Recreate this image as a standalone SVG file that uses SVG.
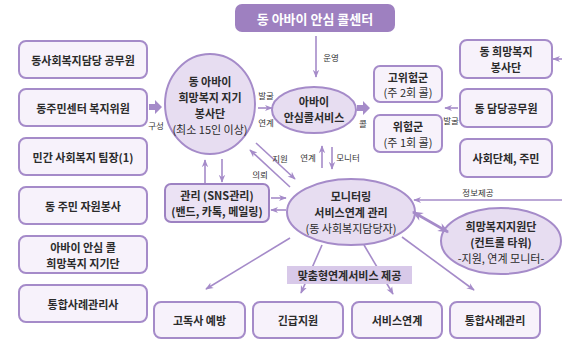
<svg xmlns="http://www.w3.org/2000/svg" width="562" height="341" viewBox="0 0 562 341">
<defs>
<marker id="ah" viewBox="0 0 10 10" refX="9" refY="5" markerWidth="8" markerHeight="8" orient="auto" markerUnits="userSpaceOnUse">
<path d="M0,1 L10,5 L0,9 L3,5 z" fill="#a58bc9"/>
</marker>
<marker id="ahb" viewBox="0 0 10 10" refX="9" refY="5" markerWidth="11" markerHeight="11" orient="auto-start-reverse" markerUnits="userSpaceOnUse">
<path d="M0,1 L10,5 L0,9 L3,5 z" fill="#a58bc9"/>
</marker>
<style>
.box{fill:#f7f2fb;stroke:#a58bc9;stroke-width:2}
.box2{fill:#ebe2f4;stroke:#9d82c2;stroke-width:2}
.ell{fill:#e7ddf1;stroke:#a58bc9;stroke-width:2}
.t{font-family:"Noto Sans CJK KR","Noto Sans",sans-serif;font-size:11px;font-weight:700;fill:#2b2b2b;text-anchor:middle;dominant-baseline:central}
.r{font-weight:400}
.s{font-family:"Noto Sans CJK KR","Noto Sans",sans-serif;font-size:8.5px;font-weight:400;fill:#333;text-anchor:middle;dominant-baseline:central}
.ln{stroke:#a58bc9;stroke-width:1.6;fill:none}
.blk{fill:#a58bc9}
</style>
</defs>
<rect width="562" height="341" fill="#ffffff"/>

<g id="title">
<rect x="235" y="4" width="160" height="28" rx="7" fill="#9e80c0"/>
<text class="t" x="315" y="18" style="font-size:13px;fill:#ffffff">동 아바이 안심 콜센터</text>
</g>

<g id="left1"><rect class="box" x="19" y="41" width="128" height="37" rx="7"/><text class="t" x="83" y="59.5">동사회복지담당 공무원</text></g>
<g id="left2"><rect class="box" x="19" y="89" width="128" height="37" rx="7"/><text class="t" x="83" y="107.5">동주민센터 복지위원</text></g>
<g id="left3"><rect class="box" x="19" y="138" width="128" height="37" rx="7"/><text class="t" x="83" y="156.5">민간 사회복지 팀장(1)</text></g>
<g id="left4"><rect class="box" x="19" y="187" width="128" height="37" rx="7"/><text class="t" x="83" y="205.5">동 주민 자원봉사</text></g>
<g id="left5"><rect class="box" x="19" y="236" width="128" height="37" rx="7"/><text class="t" x="83" y="246.5">아바이 안심 콜</text><text class="t" x="83" y="262.5">희망복지 지기단</text></g>
<g id="left6"><rect class="box" x="19" y="285" width="128" height="37" rx="7"/><text class="t" x="83" y="303.5">통합사례관리사</text></g>

<g id="volunteer">
<ellipse class="ell" cx="210" cy="104" rx="45" ry="50"/>
<text class="t" x="210" y="81">동 아바이</text>
<text class="t" x="210" y="97">희망복지 지기</text>
<text class="t" x="210" y="113">봉사단</text>
<text class="t r" x="210" y="129">(최소 15인 이상)</text>
</g>

<g id="callservice">
<ellipse class="ell" cx="314" cy="110" rx="42" ry="23"/>
<text class="t" x="314" y="101">아바이</text>
<text class="t" x="314" y="117">안심콜서비스</text>
</g>

<g id="highrisk"><rect class="box" x="374" y="66" width="68" height="36" rx="6"/><text class="t" x="408" y="76.5">고위험군</text><text class="t r" x="408" y="92">(주 2회 콜)</text></g>
<g id="risk"><rect class="box" x="374" y="115" width="68" height="37" rx="6"/><text class="t" x="408" y="125.5">위험군</text><text class="t r" x="408" y="141.5">(주 1회 콜)</text></g>

<g id="right1"><rect class="box" x="460" y="40" width="92" height="38" rx="7"/><text class="t" x="506" y="51">동 희망복지</text><text class="t" x="506" y="67">봉사단</text></g>
<g id="right2"><rect class="box" x="460" y="89" width="92" height="38" rx="7"/><text class="t" x="506" y="108">동 담당공무원</text></g>
<g id="right3"><rect class="box" x="460" y="139" width="92" height="38" rx="7"/><text class="t" x="506" y="158">사회단체, 주민</text></g>

<g id="sns">
<rect class="box2" x="165" y="184" width="104" height="38" rx="6"/>
<text class="t" x="217" y="195">관리 (SNS관리)</text>
<text class="t" x="217" y="211">(밴드, 카톡, 메일링)</text>
</g>

<g id="monitoring">
<ellipse class="ell" cx="351" cy="212" rx="64" ry="33"/>
<text class="t" x="351" y="196">모니터링</text>
<text class="t" x="351" y="212">서비스연계 관리</text>
<text class="t r" x="351" y="228">(동 사회복지담당자)</text>
</g>

<g id="support">
<ellipse class="ell" cx="501" cy="241" rx="60" ry="33"/>
<text class="t" x="501" y="226">희망복지지원단</text>
<text class="t" x="501" y="242">(컨트롤 타워)</text>
<text class="t r" x="501" y="258">-지원, 연계 모니터-</text>
</g>

<g id="connectors">
<line class="ln" x1="316" y1="36" x2="316" y2="77" marker-end="url(#ah)"/>
<line class="ln" x1="258" y1="108" x2="272" y2="108" marker-end="url(#ah)"/>
<line class="ln" x1="322" y1="168" x2="322" y2="146" marker-end="url(#ah)"/>
<line class="ln" x1="332" y1="147" x2="332" y2="169" marker-end="url(#ah)"/>
<line class="ln" x1="256" y1="143" x2="295" y2="179" marker-end="url(#ah)"/>
<line class="ln" x1="290" y1="187" x2="250" y2="150" marker-end="url(#ah)"/>
<line class="ln" x1="205" y1="183" x2="205" y2="160" marker-end="url(#ah)"/>
<line class="ln" x1="222" y1="159" x2="222" y2="182" marker-end="url(#ah)"/>
<line class="ln" x1="271" y1="198" x2="286" y2="198" marker-end="url(#ah)"/>
<line class="ln" x1="286" y1="210" x2="271" y2="210" marker-end="url(#ah)"/>
<line class="ln" x1="290" y1="238" x2="206" y2="289" marker-end="url(#ah)"/>
<line class="ln" x1="322" y1="245" x2="301" y2="293" marker-end="url(#ah)"/>
<line class="ln" x1="364" y1="245" x2="393" y2="294" marker-end="url(#ah)"/>
<line class="ln" x1="402" y1="237" x2="474" y2="290" marker-end="url(#ah)"/>
<line class="ln" x1="562" y1="200" x2="414" y2="200" marker-end="url(#ah)"/>
<line class="ln" x1="413" y1="212" x2="448" y2="232" style="stroke-width:2.6" marker-start="url(#ahb)" marker-end="url(#ahb)"/>
<line class="ln" x1="458" y1="108" x2="445" y2="108" marker-end="url(#ah)"/>
<line class="ln" x1="562" y1="59" x2="553" y2="59" marker-end="url(#ah)"/>
<polygon class="blk" points="149,104 155,104 155,100 162,107 155,114 155,110 149,110"/>
<polygon class="blk" points="357,105 363,105 363,101 370,108 363,115 363,111 357,111"/>
</g>

<g id="labels">
<text class="s" x="331" y="57">운영</text>
<text class="s" x="156" y="125">구성</text>
<text class="s" x="266" y="95">발굴</text>
<text class="s" x="266" y="122">연계</text>
<text class="s" x="363" y="123">콜</text>
<text class="s" x="451" y="120">발굴</text>
<text class="s" x="308" y="157">연계</text>
<text class="s" x="348" y="157">모니터</text>
<text class="s" x="280" y="158">지원</text>
<text class="s" x="260" y="174">의뢰</text>
<text class="s" x="478" y="192">정보제공</text>
</g>

<g id="custom">
<rect x="287" y="266" width="125" height="18" fill="#d8c9e9"/>
<text class="t" x="349.5" y="275">맞춤형연계서비스 제공</text>
</g>

<g id="b1"><rect class="box" x="154" y="302" width="91" height="36" rx="7"/><text class="t" x="199.5" y="320">고독사 예방</text></g>
<g id="b2"><rect class="box" x="253" y="302" width="90" height="36" rx="7"/><text class="t" x="298" y="320">긴급지원</text></g>
<g id="b3"><rect class="box" x="352" y="302" width="90" height="36" rx="7"/><text class="t" x="397" y="320">서비스연계</text></g>
<g id="b4"><rect class="box" x="450" y="302" width="90" height="36" rx="7"/><text class="t" x="495" y="320">통합사례관리</text></g>
</svg>
